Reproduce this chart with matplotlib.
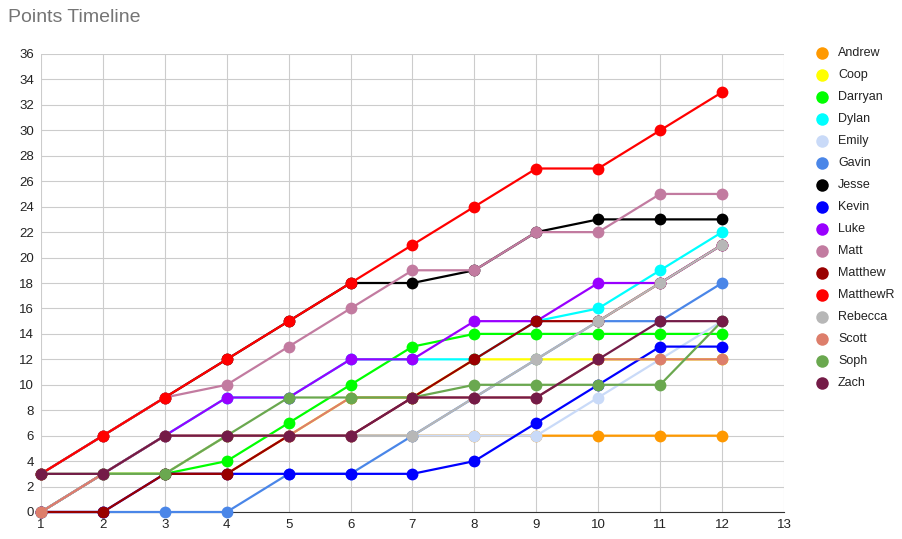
import matplotlib
matplotlib.use("Agg")
import matplotlib.pyplot as plt
from matplotlib.lines import Line2D

plt.rcParams['font.family'] = ['Liberation Sans', 'DejaVu Sans']

weeks = list(range(1, 13))

names = ["Andrew", "Coop", "Darryan", "Dylan", "Emily", "Gavin", "Jesse", "Kevin",
         "Luke", "Matt", "Matthew", "MatthewR", "Rebecca", "Scott", "Soph", "Zach"]

andrew = [0, 3, 3, 3, 6, 6, 6, 6, 6, 6, 6, 6]
coop = [0, 3, 3, 6, 6, 9, 9, 12, 12, 12, 12, 12]
darryan = [0, 3, 3, 4, 7, 10, 13, 14, 14, 14, 14, 14]
dylan = [0, 3, 6, 9, 9, 12, 12, 12, 15, 16, 19, 22]
emily = [0, 3, 3, 6, 6, 6, 6, 6, 6, 9, 12, 15]
gavin = [0, 0, 0, 0, 3, 3, 6, 9, 12, 15, 15, 18]
jesse = [3, 6, 9, 12, 15, 18, 18, 19, 22, 23, 23, 23]
kevin = [0, 0, 3, 3, 3, 3, 3, 4, 7, 10, 13, 13]
luke = [0, 3, 6, 9, 9, 12, 12, 15, 15, 18, 18, 21]
matt = [3, 6, 9, 10, 13, 16, 19, 19, 22, 22, 25, 25]
matthew = [0, 0, 3, 3, 6, 6, 9, 12, 15, 15, 18, 21]
matthewr = [3, 6, 9, 12, 15, 18, 21, 24, 27, 27, 30, 33]
rebecca = [0, 3, 6, 6, 6, 6, 6, 9, 12, 15, 18, 21]
scott = [0, 3, 6, 6, 6, 9, 9, 9, 9, 12, 12, 12]
soph = [3, 3, 3, 6, 9, 9, 9, 10, 10, 10, 10, 15]
zach = [3, 3, 6, 6, 6, 6, 9, 9, 9, 12, 15, 15]

series = [andrew, coop, darryan, dylan, emily, gavin, jesse, kevin,
          luke, matt, matthew, matthewr, rebecca, scott, soph, zach]

colors = ["#ff9900", "#ffff00", "#00ff00", "#00ffff", "#c9daf8", "#4a86e8", "#000000", "#0000ff",
          "#9900ff", "#c27ba0", "#990000", "#ff0000", "#b7b7b7", "#dd7e6b", "#6aa84f", "#741b47"]

fig = plt.figure(figsize=(9.02, 5.39), dpi=100)
ax = fig.add_axes([41 / 902, 27 / 539, 743 / 902, 458 / 539])

for name, vals, c in zip(names, series, colors):
    ax.plot(weeks, vals, color=c, lw=1.6, marker='o', markersize=8.5,
            markeredgewidth=0, label=name, clip_on=False, zorder=3)

ax.set_xlim(1, 13)
ax.set_ylim(0, 36)
ax.set_xticks(range(1, 14))
ax.set_yticks(range(0, 37, 2))
ax.grid(True, color='#cccccc', lw=0.8)
ax.set_axisbelow(True)
for s in ['top', 'right', 'left']:
    ax.spines[s].set_visible(False)
ax.spines['bottom'].set_color('#333333')
ax.tick_params(length=0, labelsize=9.5, colors='#222222', pad=5)

fig.text(8 / 902, 1 - 18 / 539, "Points Timeline", fontsize=14, color='#757575',
         va='center', ha='left')

# legend on the right
for i, (name, c) in enumerate(zip(names, colors)):
    y = 1 - (53 + 22 * i) / 539
    fig.add_artist(Line2D([822 / 902], [y], marker='o', color=c, markersize=9,
                          markeredgewidth=0, transform=fig.transFigure))
    fig.text(838 / 902, y, name, fontsize=9, color='#222222', va='center', ha='left')

fig.savefig("out.png", dpi=100)
